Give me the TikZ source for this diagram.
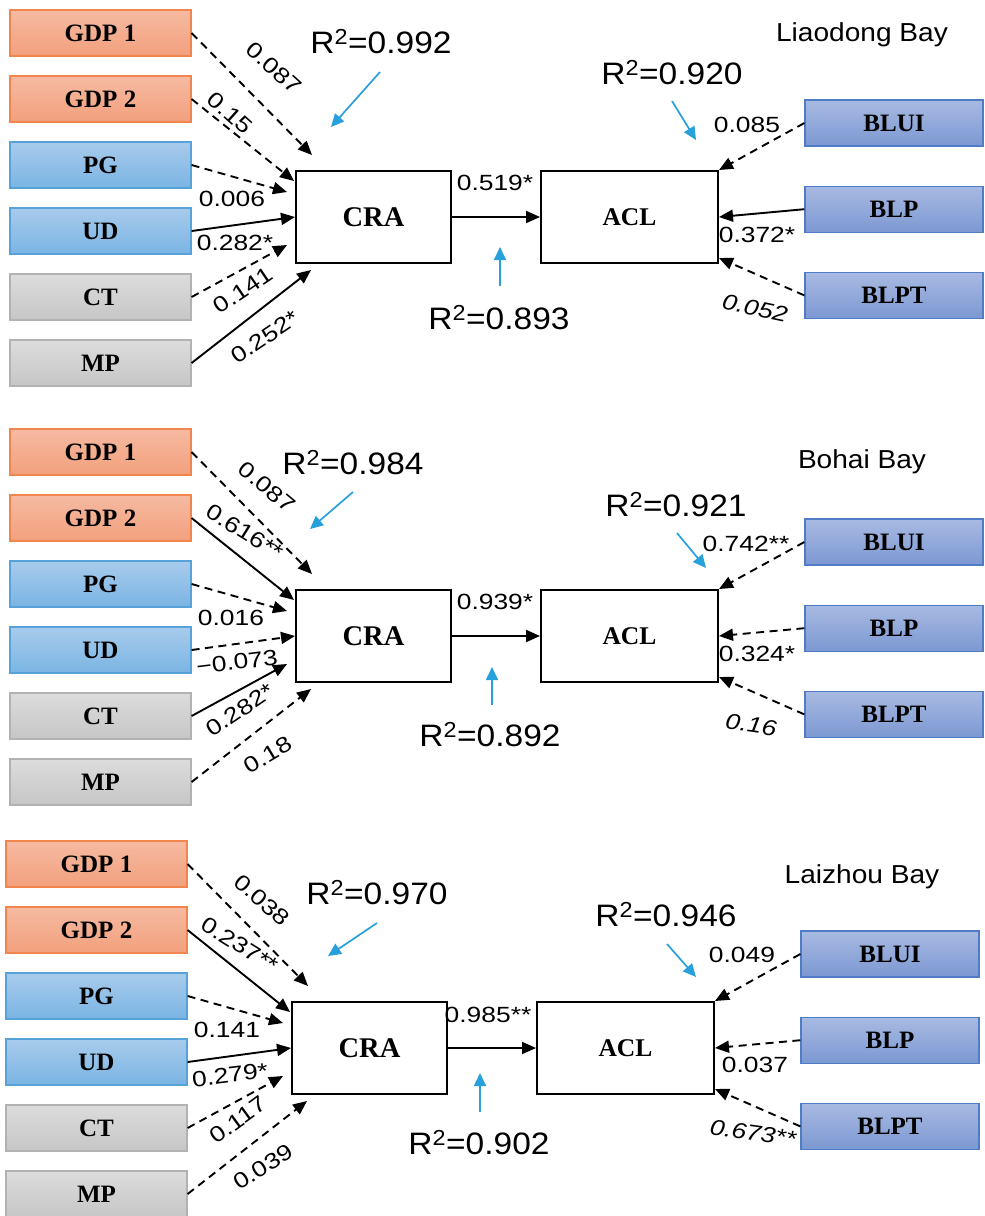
\documentclass[tikz,border=0pt]{standalone}
\usepackage{fontspec}
\setmainfont{Liberation Sans}[FakeStretch=1.08]
\newfontfamily\numfont{Liberation Sans}[FakeStretch=1.2]
\newfontfamily\boxfont{Liberation Serif}
\usepackage{xcolor}
\definecolor{gdptop}{RGB}{246,186,162}
\definecolor{gdpbot}{RGB}{242,160,124}
\definecolor{gdpline}{RGB}{240,134,78}
\definecolor{soctop}{RGB}{168,203,236}
\definecolor{socbot}{RGB}{122,180,227}
\definecolor{socline}{RGB}{88,162,218}
\definecolor{ctltop}{RGB}{220,220,220}
\definecolor{ctlbot}{RGB}{198,198,198}
\definecolor{ctlline}{RGB}{178,178,178}
\definecolor{bltop}{RGB}{168,186,226}
\definecolor{blbot}{RGB}{124,152,210}
\definecolor{blline}{RGB}{78,124,198}
\definecolor{rsqblue}{RGB}{40,160,220}
\usepackage{tikz}
\usetikzlibrary{arrows.meta,positioning}

\newcommand{\baynodes}{%
  \node[gdp] (gdp1) at (100.5,33) {GDP 1};
  \node[gdp,below=of gdp1] (gdp2) {GDP 2};
  \node[soc,below=of gdp2] (pg) {PG};
  \node[soc,below=of pg] (ud) {UD};
  \node[ctl,below=of ud] (ct) {CT};
  \node[ctl,below=of ct] (mp) {MP};
  \node[latent,font=\boxfont\bfseries\fontsize{28.5}{28.5}\selectfont] (cra) at (373.5,217) {CRA};
  \node[latent,right=88pt of cra,minimum width=177pt] (acl) {ACL};
  \node[bl] (blui) at (894,123) {BLUI};
  \node[bl,below=39pt of blui] (blp) {BLP};
  \node[bl,below=39pt of blp] (blpt) {BLPT};
}

\begin{document}
\begin{tikzpicture}[x=1pt,y=-1pt,node distance=18.8pt]
  \tikzstyle{var}=[rectangle,line width=1.2pt,minimum width=181pt,minimum height=46pt,font=\boxfont\bfseries\fontsize{25}{25}\selectfont]
  \tikzstyle{gdp}=[var,draw=gdpline,top color=gdptop,bottom color=gdpbot]
  \tikzstyle{soc}=[var,draw=socline,top color=soctop,bottom color=socbot]
  \tikzstyle{ctl}=[var,draw=ctlline,top color=ctltop,bottom color=ctlbot]
  \tikzstyle{bl}=[var,minimum width=178pt,draw=blline,top color=bltop,bottom color=blbot]
  \tikzstyle{latent}=[rectangle,draw=black,line width=2pt,fill=white,minimum width=155pt,minimum height=92pt,font=\boxfont\bfseries\fontsize{25.5}{25.5}\selectfont]
  \tikzstyle{sol}=[line width=1.9pt,-{Triangle[length=14pt,width=12pt]}]
  \tikzstyle{dsh}=[sol,dash pattern=on 8pt off 5.5pt]
  \tikzstyle{rarr}=[draw=rsqblue,line width=1.7pt,-{Triangle[length=13pt,width=12pt]}]
  \tikzstyle{lab}=[inner sep=0pt,font=\numfont\fontsize{22}{22}\selectfont]
  \tikzstyle{labit}=[lab,font=\numfont\fontsize{22}{22}\selectfont\itshape]
  \tikzstyle{rsq}=[inner sep=0pt,font=\fontsize{31}{31}\selectfont]
  \tikzstyle{bay}=[inner sep=0pt,font=\fontsize{26}{26}\selectfont]
  \useasboundingbox (0,0) rectangle (985,1216);

  \begin{scope}[name prefix=ld-]
    \baynodes
    \draw[dsh] (gdp1.east) -- ([shift={(17,-15)}]cra.north west);
    \draw[dsh] (gdp2.east) -- ([shift={(-1,11)}]cra.north west);
    \draw[dsh] (pg.east) -- ([shift={(-8,22)}]cra.north west);
    \draw[sol] (ud.east) -- (cra.west);
    \draw[dsh] (ct.east) -- ([shift={(-8,-19)}]cra.south west);
    \draw[sol] (mp.east) -- ([shift={(16,6)}]cra.south west);
    \draw[sol] (cra) -- (acl);
    \draw[dsh] (blui.west) -- (acl.north east);
    \draw[sol] (blp.west) -- (acl.east);
    \draw[dsh] (blpt.west) -- ([yshift=6pt]acl.south east);
    \node[lab,rotate=-42] (w1) at (274,68) {0.087};
    \node[lab,rotate=-42] (w2) at (230,113) {0.15};
    \node[lab] (w3) at (232,199) {0.006};
    \node[lab] (w4) at (235,243) {0.282*};
    \node[lab,rotate=34] (w5) at (243,290) {0.141};
    \node[lab,rotate=34] (w6) at (265,337) {0.252*};
    \node[lab] (w7) at (495,183) {0.519*};
    \node[lab] (w8) at (747,125) {0.085};
    \node[lab] (w9) at (757,235) {0.372*};
    \node[labit,rotate=-12] (w10) at (755,308) {0.052};
    \node[bay] (bay) at (862,35) {Liaodong Bay};
    \node[rsq] (r1) at (381,42) {R\textsuperscript{2}=0.992};
    \node[rsq] (r2) at (672,73) {R\textsuperscript{2}=0.920};
    \node[rsq] (r3) at (499,318) {R\textsuperscript{2}=0.893};
    \coordinate (r1s) at (380,72);  \coordinate (r1e) at (331,127);
    \coordinate (r2s) at (672,101); \coordinate (r2e) at (696,140);
    \coordinate (r3s) at (500,286); \coordinate (r3e) at (500,247);
    \draw[rarr] (r1s) -- (r1e);
    \draw[rarr] (r2s) -- (r2e);
    \draw[rarr] (r3s) -- (r3e);
  \end{scope}

  \begin{scope}[shift={(0,419)},name prefix=bh-]
    \baynodes
    \draw[dsh] (gdp1.east) -- ([shift={(17,-15)}]cra.north west);
    \draw[sol] (gdp2.east) -- ([shift={(-1,11)}]cra.north west);
    \draw[dsh] (pg.east) -- ([shift={(-8,22)}]cra.north west);
    \draw[dsh] (ud.east) -- (cra.west);
    \draw[sol] (ct.east) -- ([shift={(-8,-19)}]cra.south west);
    \draw[dsh] (mp.east) -- ([shift={(16,6)}]cra.south west);
    \draw[sol] (cra) -- (acl);
    \draw[dsh] (blui.west) -- (acl.north east);
    \draw[dsh] (blp.west) -- (acl.east);
    \draw[dsh] (blpt.west) -- ([yshift=6pt]acl.south east);
    \node[lab,rotate=-40] (w1) at (267,68) {0.087};
    \node[lab,rotate=-32] (w2) at (245,113) {0.616**};
    \node[lab] (w3) at (231,199) {0.016};
    \node[lab,rotate=7] (w4) at (237,243) {−0.073};
    \node[lab,rotate=34] (w5) at (240,291) {0.282*};
    \node[lab,rotate=31] (w6) at (268,336) {0.18};
    \node[lab] (w7) at (495,183) {0.939*};
    \node[lab] (w8) at (746,125) {0.742**};
    \node[lab] (w9) at (757,235) {0.324*};
    \node[labit,rotate=-8] (w10) at (751,306) {0.16};
    \node[bay] (bay) at (862,43) {Bohai Bay};
    \node[rsq] (r1) at (353,44) {R\textsuperscript{2}=0.984};
    \node[rsq] (r2) at (676,86) {R\textsuperscript{2}=0.921};
    \node[rsq] (r3) at (490,316) {R\textsuperscript{2}=0.892};
    \coordinate (r1s) at (353,73);  \coordinate (r1e) at (310,110);
    \coordinate (r2s) at (677,114); \coordinate (r2e) at (706,149);
    \coordinate (r3s) at (492,286); \coordinate (r3e) at (492,248);
    \draw[rarr] (r1s) -- (r1e);
    \draw[rarr] (r2s) -- (r2e);
    \draw[rarr] (r3s) -- (r3e);
  \end{scope}

  \begin{scope}[shift={(-4,831)},name prefix=lz-]
    \baynodes
    \draw[dsh] (gdp1.east) -- ([shift={(17,-15)}]cra.north west);
    \draw[sol] (gdp2.east) -- ([shift={(-1,11)}]cra.north west);
    \draw[dsh] (pg.east) -- ([shift={(-8,22)}]cra.north west);
    \draw[sol] (ud.east) -- (cra.west);
    \draw[dsh] (ct.east) -- ([shift={(-8,-19)}]cra.south west);
    \draw[dsh] (mp.east) -- ([shift={(16,6)}]cra.south west);
    \draw[sol] (cra) -- (acl);
    \draw[dsh] (blui.west) -- (acl.north east);
    \draw[dsh] (blp.west) -- (acl.east);
    \draw[dsh] (blpt.west) -- ([yshift=6pt]acl.south east);
    \node[lab,rotate=-41] (w1) at (266,69) {0.038};
    \node[lab,rotate=-32] (w2) at (244,114) {0.237**};
    \node[lab] (w3) at (231,199) {0.141};
    \node[lab,rotate=7] (w4) at (234,244) {0.279*};
    \node[lab,rotate=36] (w5) at (242,289) {0.117};
    \node[lab,rotate=32] (w6) at (267,336) {0.039};
    \node[lab] (w7) at (492,184) {0.985**};
    \node[lab] (w8) at (746,124) {0.049};
    \node[lab] (w9) at (759,234) {0.037};
    \node[labit,rotate=-8] (w10) at (757,302) {0.673**};
    \node[bay] (bay) at (866,46) {Laizhou Bay};
    \node[rsq] (r1) at (381,62) {R\textsuperscript{2}=0.970};
    \node[rsq] (r2) at (670,84) {R\textsuperscript{2}=0.946};
    \node[rsq] (r3) at (483,312) {R\textsuperscript{2}=0.902};
    \coordinate (r1s) at (381,92);  \coordinate (r1e) at (332,125);
    \coordinate (r2s) at (671,113); \coordinate (r2e) at (700,146);
    \coordinate (r3s) at (484,281); \coordinate (r3e) at (484,242);
    \draw[rarr] (r1s) -- (r1e);
    \draw[rarr] (r2s) -- (r2e);
    \draw[rarr] (r3s) -- (r3e);
  \end{scope}
\end{tikzpicture}
\end{document}
